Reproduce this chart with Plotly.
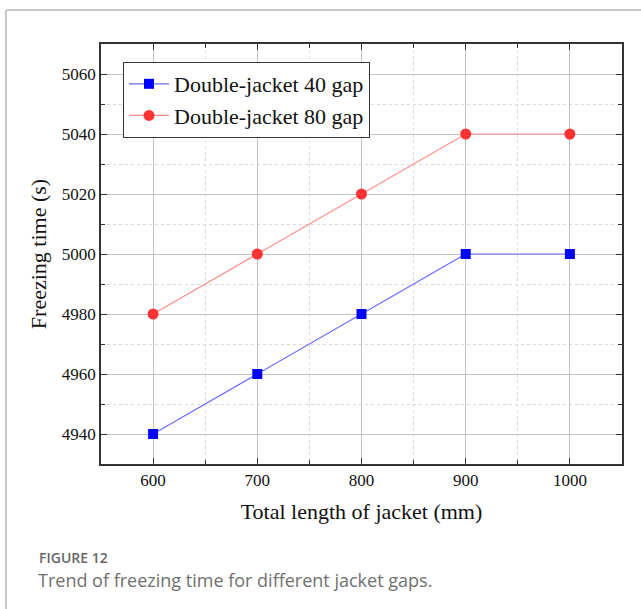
import plotly.graph_objects as go

lengths = [600, 700, 800, 900, 1000]
gap40 = [4940, 4960, 4980, 5000, 5000]
gap80 = [4980, 5000, 5020, 5040, 5040]

x_ticks = [600, 700, 800, 900, 1000]
y_ticks = [4940, 4960, 4980, 5000, 5020, 5040, 5060]

serif = "Liberation Serif, Times New Roman, serif"

fig = go.Figure()
fig.add_trace(go.Scatter(
    x=lengths, y=gap40, mode="lines+markers", name="Double-jacket 40 gap",
    line=dict(color="#6b6bff", width=1.2),
    marker=dict(symbol="square", size=10, color="#0000ff"),
))
fig.add_trace(go.Scatter(
    x=lengths, y=gap80, mode="lines+markers", name="Double-jacket 80 gap",
    line=dict(color="#ff8c8c", width=1.2),
    marker=dict(symbol="circle", size=11, color="#ff3333"),
))

W, H = 641, 609
L, R, T, B = 101, 19, 44, 145
pw, ph = W - L - R, H - T - B

def px(xp):
    return (xp - L) / pw

def py(yp):
    return (H - B - yp) / ph

axis_common = dict(
    showline=True, linecolor="#333333", linewidth=1.5, mirror="allticks",
    ticks="inside", ticklen=6, tickwidth=1.2, tickcolor="#333333",
    showgrid=True, gridcolor="#c4c4c4", gridwidth=1,
    tickfont=dict(family=serif, size=17, color="#111111"),
    zeroline=False,
)

fig.update_xaxes(
    range=[550, 1050], tickvals=x_ticks,
    title=dict(text="Total length of jacket (mm)", font=dict(family=serif, size=22, color="#111111"), standoff=14),
    minor=dict(dtick=50, tick0=550, ticks="inside", ticklen=4, tickcolor="#333333",
               showgrid=True, gridcolor="#d8d8d8", griddash="dot", gridwidth=1),
    **axis_common,
)
fig.update_yaxes(
    range=[4930, 5070], tickvals=y_ticks,
    title=dict(text="Freezing time (s)", font=dict(family=serif, size=22, color="#111111"), standoff=9),
    minor=dict(dtick=10, tick0=4930, ticks="inside", ticklen=4, tickcolor="#333333",
               showgrid=True, gridcolor="#d8d8d8", griddash="dot", gridwidth=1),
    **axis_common,
)

fig.update_layout(
    width=W, height=H,
    margin=dict(l=L, r=R, t=T, b=B),
    paper_bgcolor="white", plot_bgcolor="white",
    showlegend=True,
    legend=dict(
        x=px(123), y=py(62), xanchor="left", yanchor="top",
        bgcolor="white", bordercolor="#333333", borderwidth=1,
        font=dict(family=serif, size=22, color="#111111"),
        tracegroupgap=0, itemwidth=40,
    ),
    shapes=[
        dict(type="line", xref="paper", yref="paper", x0=px(6), x1=px(641), y0=py(10), y1=py(10),
             line=dict(color="#c8c8c8", width=2)),
        dict(type="line", xref="paper", yref="paper", x0=px(6), x1=px(6), y0=py(10), y1=py(609),
             line=dict(color="#c8c8c8", width=2)),
    ],
    annotations=[
        dict(text="FIGURE 12", xref="paper", yref="paper", x=px(37), y=py(557),
             xanchor="left", yanchor="middle", showarrow=False,
             font=dict(family="Open Sans, sans-serif", size=14, color="#666666", weight=600)),
        dict(text="Trend of freezing time for different jacket gaps.", xref="paper", yref="paper",
             x=px(36), y=py(580), xanchor="left", yanchor="middle", showarrow=False,
             font=dict(family="Open Sans, sans-serif", size=18, color="#707070")),
    ],
)

fig.write_html("out.html")
